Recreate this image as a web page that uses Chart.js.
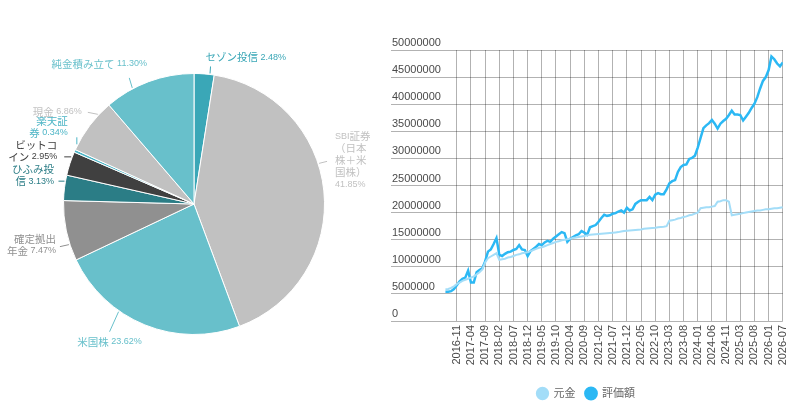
<!DOCTYPE html>
<html>
<head>
<meta charset="utf-8">
<script src="https://cdn.jsdelivr.net/npm/chart.js@4.4.1/dist/chart.umd.min.js"></script>
<style>
html,body{margin:0;padding:0;background:#fff;width:800px;height:416px;overflow:hidden}
#pie{position:absolute;left:0;top:0}
#line{position:absolute;left:385px;top:0}
</style>
</head>
<body>
<canvas id="pie" width="380" height="416"></canvas>
<canvas id="line" width="415" height="416"></canvas>
<script>
// 資産の内訳 (%)
const assetNames=["セゾン投信","SBI証券（日本株＋米国株）","米国株","確定拠出年金","ひふみ投信","ビットコイン","楽天証券","現金","純金積み立て"]
const assetShares=[2.48,41.85,23.62,7.47,3.13,2.95,0.34,6.86,11.30]
const pieColors=["#3aa7b7","#c1c1c1","#68c0cb","#909090","#2b7d86","#404040","#4cb5c6","#c1c1c1","#68c0cb"]

// 月次の推移 (円)
const months=[
"2016-07","2016-08","2016-09","2016-10","2016-11","2016-12",
"2017-01","2017-02","2017-03","2017-04","2017-05","2017-06","2017-07","2017-08","2017-09","2017-10","2017-11","2017-12",
"2018-01","2018-02","2018-03","2018-04","2018-05","2018-06","2018-07","2018-08","2018-09","2018-10","2018-11","2018-12",
"2019-01","2019-02","2019-03","2019-04","2019-05","2019-06","2019-07","2019-08","2019-09","2019-10","2019-11","2019-12",
"2020-02","2020-03","2020-04","2020-05","2020-06","2020-07","2020-08","2020-09","2020-10","2020-11","2020-12",
"2021-01","2021-02","2021-03","2021-04","2021-05","2021-06","2021-07","2021-08","2021-09","2021-10","2021-11","2021-12",
"2022-01","2022-02","2022-03","2022-04","2022-05","2022-06","2022-07","2022-08","2022-09","2022-10","2022-11","2022-12",
"2023-01","2023-02","2023-03","2023-04","2023-05","2023-06","2023-07","2023-08","2023-09","2023-10","2023-11","2023-12",
"2024-01","2024-02","2024-03","2024-04","2024-05","2024-06","2024-07","2024-08","2024-09","2024-10","2024-11","2024-12","2024-12",
"2025-01","2025-02","2025-03","2025-04","2025-05","2025-06","2025-07","2025-08","2025-09","2025-10","2025-11","2025-12",
"2026-01","2026-02","2026-03","2026-05","2026-06","2026-07"
]

const genkin=[
5800000,5900000,6100000,6400000,6800000,7100000,7400000,7600000,7800000,8000000,
8200000,8600000,9000000,9500000,10800000,11600000,11900000,12200000,12500000,11300000,
11400000,11500000,11700000,11800000,12000000,12200000,12300000,12500000,12600000,12700000,
12900000,13100000,13300000,13500000,13600000,13800000,14000000,14200000,14400000,14600000,
14700000,14900000,15000000,15100000,15200000,15300000,15400000,15500000,15600000,15700000,
15800000,15900000,15950000,16000000,16050000,16100000,16150000,16200000,16250000,16300000,
16350000,16400000,16500000,16600000,16650000,16700000,16750000,16800000,16850000,16900000,
17000000,17050000,17100000,17150000,17200000,17300000,17350000,17400000,17500000,18500000,
18600000,18700000,18900000,19000000,19200000,19300000,19500000,19600000,19800000,20000000,
20800000,20900000,21000000,21000000,21100000,21200000,22000000,22100000,22300000,22300000,
22000000,19500000,19600000,19700000,19800000,19900000,20000000,20100000,20200000,20300000,
20400000,20400000,20500000,20600000,20600000,20700000,20800000,20800000,20900000,21000000
]

const hyoka=[
5400000,5400000,5500000,5900000,6600000,7300000,7800000,8000000,9300000,7100000,
7100000,9000000,9400000,9700000,11000000,12800000,13200000,14200000,15300000,12200000,
12000000,12400000,12700000,12800000,13100000,13300000,14000000,13200000,13100000,12000000,
12900000,13300000,13700000,14200000,14000000,14500000,14800000,14600000,15200000,15600000,
16000000,16400000,16200000,14600000,15200000,15500000,15800000,16000000,16600000,16300000,
15900000,17300000,17500000,17700000,18300000,19000000,19600000,19400000,19500000,19800000,
19900000,20200000,20400000,20000000,20900000,20400000,20600000,21600000,22000000,22300000,
22300000,22300000,22900000,22300000,23300000,23600000,23400000,23400000,24300000,25400000,
25800000,26000000,27500000,28400000,28800000,28900000,29900000,30100000,30500000,32000000,
33800000,35600000,36100000,36500000,37100000,36400000,35500000,36400000,36900000,37300000,
38000000,38800000,38100000,38100000,38000000,37000000,37700000,38400000,39300000,40100000,
41300000,42900000,44300000,45000000,46300000,48800000,48300000,47500000,47000000,47700000
]

const yTicks=[0,5000000,10000000,15000000,20000000,25000000,30000000,35000000,40000000,45000000,50000000]

Chart.defaults.font.family='"Liberation Sans", Arial, "Noto Sans CJK JP", sans-serif'
Chart.defaults.animation=false

// 円グラフの外側ラベル (引き出し線つき)
const pieLabelLayout=[
{deg:7,lx:0.5,ly:-7,dx:-5,dy:-9,align:"left"},
{deg:72,lx:8,ly:-2,dx:8,dy:-1,align:"left",wrap:38},
{deg:215,lx:-9,ly:20,dx:0,dy:10,align:"center"},
{deg:252,lx:-9,ly:2,dx:-4,dy:-2,align:"right",wrap:51},
{deg:280,lx:-6,ly:0,dx:-4.5,dy:-6,align:"right",wrap:51},
{deg:291,lx:-7,ly:0,dx:-7,dy:-6,align:"right",wrap:51},
{deg:297,lx:0,ly:-7,dx:-9,dy:-10.5,align:"right",wrap:40},
{deg:313,lx:-10,ly:-2,dx:-6,dy:-0.5,align:"right"},
{deg:332,lx:-3,ly:-10,dx:-30,dy:-14,align:"center"}
]
const cjkFont='10.5px "Noto Sans CJK JP", sans-serif'
const latinFont='9px "Liberation Sans", Arial, sans-serif'

function labelTokens(name,pct){
const toks=name.match(/[A-Za-z0-9]+|./g).map(t=>({t:t,f:/^[A-Za-z0-9]+$/.test(t)?latinFont:cjkFont}))
toks.push({t:" "+pct,f:latinFont})
return toks
}

function tokWidth(ctx,tok){
ctx.font=tok.f
return ctx.measureText(tok.t).width
}

function wrapTokens(ctx,toks,maxW){
const lines=[]
let cur=[]
let w=0
toks.forEach(tok=>{
const tw=tokWidth(ctx,tok)
if(cur.length && w+tw>maxW){
lines.push({toks:cur,w:w})
const t2={t:tok.t.trimStart(),f:tok.f}
cur=[t2]
w=tokWidth(ctx,t2)
}else{
cur.push(tok)
w+=tw
}
})
if(cur.length) lines.push({toks:cur,w:w})
return lines
}

const pieLabels={
id:"pieLabels",
afterDatasetsDraw(chart){
const ctx=chart.ctx
const meta=chart.getDatasetMeta(0)
ctx.save()
ctx.textBaseline="middle"
ctx.textAlign="left"
meta.data.forEach((arc,i)=>{
const L=pieLabelLayout[i]
const r=arc.outerRadius+1
const a=L.deg*Math.PI/180
const x0=arc.x+r*Math.sin(a)
const y0=arc.y-r*Math.cos(a)
const x1=x0+L.lx
const y1=y0+L.ly
ctx.strokeStyle=pieColors[i]
ctx.lineWidth=1
ctx.beginPath()
ctx.moveTo(x0,y0)
ctx.lineTo(x1,y1)
ctx.stroke()
const lines=wrapTokens(ctx,labelTokens(assetNames[i],assetShares[i].toFixed(2)+"%"),L.wrap||1000)
ctx.fillStyle=pieColors[i]
const lh=12
const ax=x1+L.dx
const top=y1+L.dy-(lines.length-1)*lh/2
lines.forEach((ln,k)=>{
let x=L.align==="left"?ax:(L.align==="right"?ax-ln.w:ax-ln.w/2)
ln.toks.forEach(tok=>{
ctx.font=tok.f
ctx.fillText(tok.t,x,top+k*lh)
x+=ctx.measureText(tok.t).width
})
})
})
ctx.restore()
}
}

new Chart(document.getElementById("pie"),{
type:"pie",
data:{
labels:assetNames,
datasets:[{
data:assetShares,
backgroundColor:pieColors,
borderColor:"#fff",
borderWidth:1
}]
},
options:{
responsive:false,
layout:{padding:{left:63,top:73,right:55,bottom:81}},
plugins:{legend:{display:false},tooltip:{enabled:false}}
},
plugins:[pieLabels]
})

const gridColor="rgba(0,0,0,0.3)"
const last=months.length-1
const xTickIdx=months.map((m,i)=>i).filter(i=>(last-i)%5===0)

new Chart(document.getElementById("line"),{
type:"line",
data:{
datasets:[
{
label:"元金",
data:genkin.map((v,i)=>({x:i,y:v})),
borderColor:"#a3ddf8",
backgroundColor:"#a3ddf8",
borderWidth:2,
pointRadius:0,
tension:0
},
{
label:"評価額",
data:hyoka.map((v,i)=>({x:i,y:v})),
borderColor:"#2bb8f4",
backgroundColor:"#2bb8f4",
borderWidth:2.5,
pointRadius:0,
tension:0
}
]
},
options:{
responsive:false,
layout:{padding:{left:4,right:17,top:50,bottom:7}},
scales:{
x:{
type:"linear",
bounds:"data",
min:-19.2,
max:last,
afterBuildTicks:s=>{s.ticks=xTickIdx.map(v=>({value:v}))},
afterFit:s=>{s.height=57},
grid:{color:gridColor,drawTicks:false},
border:{display:false},
ticks:{
autoSkip:false,
minRotation:90,
maxRotation:90,
padding:4,
color:"#4a4a4a",
font:{size:11},
callback:v=>months[v]
}
},
y:{
min:0,
max:50000000,
afterBuildTicks:s=>{s.ticks=yTicks.map(v=>({value:v}))},
grid:{color:gridColor,drawTicks:false},
border:{display:false},
ticks:{
mirror:true,
padding:1,
labelOffset:-7,
color:"#4a4a4a",
font:{size:11},
callback:v=>String(v)
}
}
},
plugins:{
legend:{
position:"bottom",
labels:{
usePointStyle:true,
pointStyle:"circle",
boxWidth:12,
boxHeight:8,
padding:10,
color:"#666",
font:{size:11}
}
},
tooltip:{enabled:false}
}
}
})
</script>
</body>
</html>
